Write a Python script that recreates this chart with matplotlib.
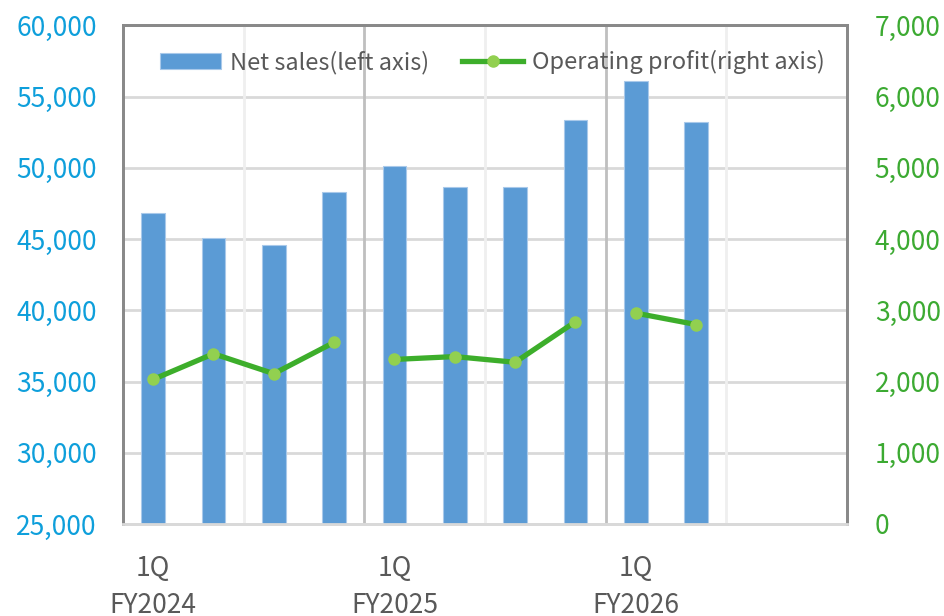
import matplotlib.pyplot as plt
import numpy as np

plt.rcParams['font.family'] = ['Noto Sans CJK JP', 'DejaVu Sans']

# quarterly data, FY2024 1Q .. FY2026 2Q (12 slots, last two empty)
quarters = ['1Q', '2Q', '3Q', '4Q'] * 3
years = ['FY2024', 'FY2025', 'FY2026']
net_sales = [46850, 45050, 44600, 48300, 50100, 48650, 48650, 53350, 56100, 53250]
op_profit = [2030, 2390, 2110, 2550, 2310, 2350, 2270, 2840, 2960, 2800]

n_slots = 12
x = np.arange(len(net_sales))

fig = plt.figure(figsize=(9.44, 6.16), dpi=100)
ax = fig.add_axes([0.1303, 0.1494, 0.7669, 0.8094])
ax2 = ax.twinx()

ax.bar(x, net_sales, width=0.39, color='#5B9BD5', edgecolor='#A9C9EA',
       linewidth=0.8, label='Net sales(left axis)', zorder=3)
ax.set_ylim(25000, 60000)
ax.set_xlim(-0.5, n_slots - 0.5)
ax.set_yticks(np.arange(25000, 60001, 5000))
ax.set_yticklabels([f'{v:,}' for v in range(25000, 60001, 5000)])
ax.yaxis.grid(True, color='#D9D9D9', linewidth=2, zorder=0)
ax.set_axisbelow(True)

# vertical guide lines: light every half year, darker at year boundaries
for b in [1.5, 5.5, 9.5]:
    ax.axvline(b, color='#EFEFEF', linewidth=2, zorder=1)
for b in [3.5, 7.5]:
    ax.axvline(b, color='#BFBFBF', linewidth=2, zorder=1)

# operating profit, one segment per fiscal year
for i in range(0, len(op_profit), 4):
    xs = x[i:i + 4]
    ys = op_profit[i:i + 4]
    ax2.plot(xs, ys, color='#3DAE2B', linewidth=3.8, marker='o', markersize=8,
             markerfacecolor='#92D050', markeredgecolor='#92D050',
             label='Operating profit(right axis)' if i == 0 else None, zorder=4)
ax2.set_ylim(0, 7000)
ax2.set_yticks(np.arange(0, 7001, 1000))
ax2.set_yticklabels([f'{v:,}' for v in range(0, 7001, 1000)])

ax.set_xticks([0, 4, 8])
ax.set_xticklabels([f'{quarters[i]}\n{years[i // 4]}' for i in [0, 4, 8]],
                   linespacing=1.5)

ax.tick_params(axis='x', length=0, pad=22, labelsize=19, labelcolor='#595959')
ax.tick_params(axis='y', length=0, pad=19, labelsize=19, labelcolor='#0E9FDB')
ax2.tick_params(axis='y', length=0, pad=20, labelsize=19, labelcolor='#3CAA32')

for a in (ax, ax2):
    a.spines['left'].set_color('#898989')
    a.spines['right'].set_color('#898989')
    a.spines['top'].set_color('#898989')
    a.spines['bottom'].set_color('#D9D9D9')
    for s in a.spines.values():
        s.set_linewidth(2)

h1, l1 = ax.get_legend_handles_labels()
h2, l2 = ax2.get_legend_handles_labels()
ax.legend(h1 + h2, l1 + l2, loc='upper center', bbox_to_anchor=(0.51, 0.993),
          ncol=2, frameon=False, fontsize=17, labelcolor='#595959',
          handlelength=2.6, handletextpad=0.35, columnspacing=1.4)

fig.savefig('out.png', dpi=100)
